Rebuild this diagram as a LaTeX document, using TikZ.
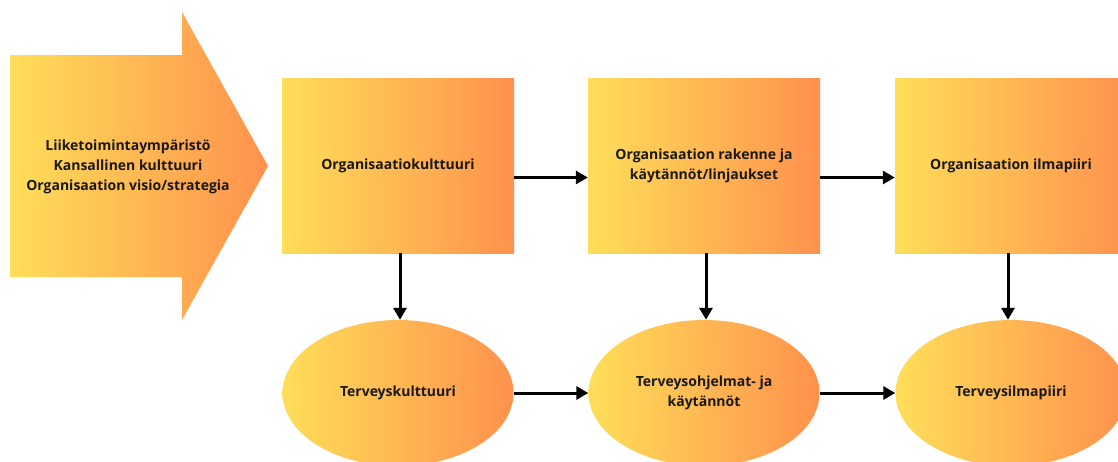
\documentclass[tikz,border=0pt]{standalone}
\usepackage{fontspec}
\setmainfont{Open Sans}
\usetikzlibrary{shapes.geometric,arrows.meta}
\definecolor{gyel}{HTML}{FFDE59}
\definecolor{gora}{HTML}{FF914D}
\tikzset{
  grad/.style={left color=gyel,right color=gora,draw=none},
  txt/.style={font=\bfseries\fontsize{14pt}{20pt}\selectfont,align=center,text=black!90},
  boxnode/.style={grad,txt,rectangle,minimum width=232pt,minimum height=175pt,inner sep=0pt},
  ellnode/.style={grad,txt,ellipse,minimum width=231pt,minimum height=146pt,inner sep=0pt},
  arr/.style={line width=3pt,-{Triangle[length=12pt,width=13pt]}}
}
\begin{document}
\begin{tikzpicture}[x=1pt,y=-1pt]
\useasboundingbox (0,0) rectangle (1118,461);
\clip (0,0) rectangle (1118,461);
\shade[grad] (10,55) -- (182,55) -- (182,12) -- (268,166) -- (182,320) -- (182,277) -- (10,277) -- cycle;
\node[txt] (src) at (128,167) {Liiketoimintaympäristö\\Kansallinen kulttuuri\\Organisaation visio/strategia};
\node[boxnode] (b1) at (398,165.5) {Organisaatiokulttuuri};
\node[boxnode] (b2) at (704,165.5) {Organisaation rakenne ja\\käytännöt/linjaukset};
\node[boxnode] (b3) at (1011,165.5) {Organisaation ilmapiiri};
\node[ellnode] (e1) at (398,393) {Terveyskulttuuri};
\node[ellnode] (e2) at (704,393) {Terveysohjelmat- ja\\käytännöt};
\node[ellnode] (e3) at (1011,393) {Terveysilmapiiri};
\draw[arr] ([yshift=-12pt]b1.east) -- ([yshift=-12pt]b2.west);
\draw[arr] ([yshift=-12pt]b2.east) -- ([yshift=-12pt]b3.west);
\draw[arr] (e1.east) -- (e2.west);
\draw[arr] (e2.east) -- (e3.west);
\draw[arr] ([xshift=2pt]b1.south) -- ([xshift=2pt]e1.north);
\draw[arr] ([xshift=2pt]b2.south) -- ([xshift=2pt]e2.north);
\draw[arr] ([xshift=-3pt]b3.south) -- ([xshift=-3pt]e3.north);
\end{tikzpicture}
\end{document}
